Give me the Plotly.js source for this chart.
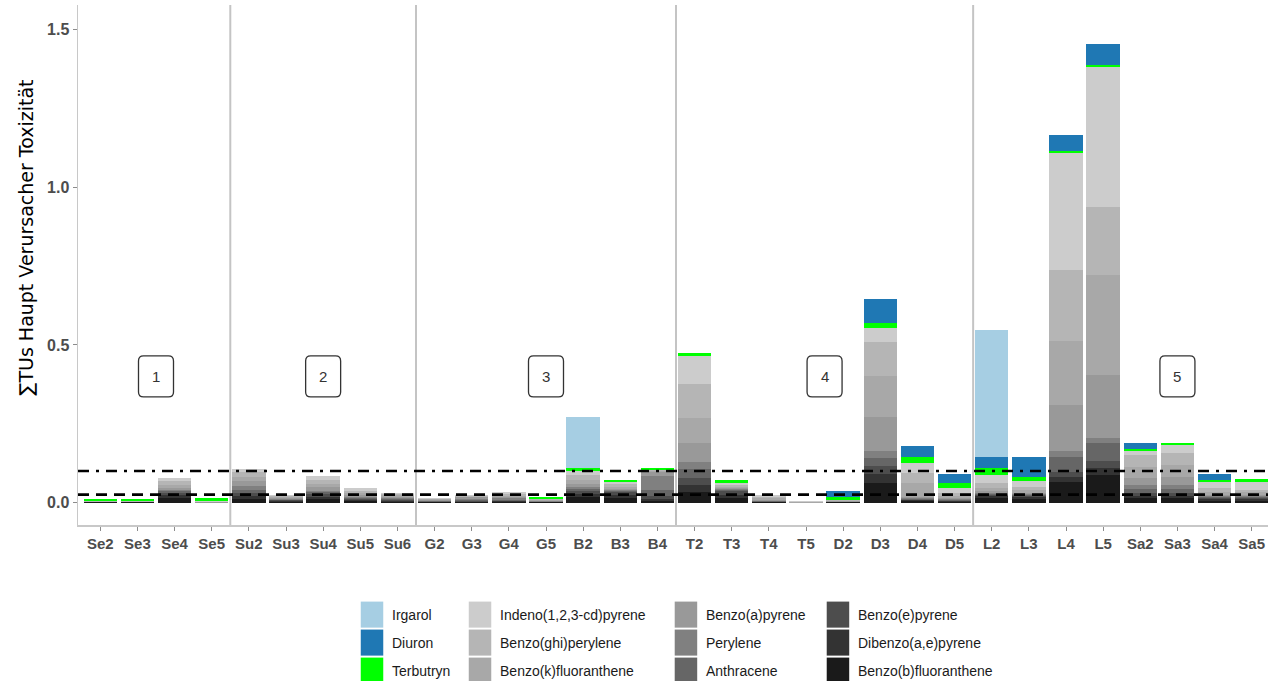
<!DOCTYPE html>
<html><head><meta charset="utf-8">
<script src="https://cdn.plot.ly/plotly-3.0.1.min.js"></script>
<style>
html,body{margin:0;padding:0;overflow:hidden;background:#fff;width:1268px;height:681px}
#chart{width:1280px;height:681px}
#chart .legendpoints path{transform:translate(20px,0px) scale(1.875,2.17) !important;}
</style>
</head><body><div id="chart"></div>
<script>
// ---- data ----
const categories = ["Se2","Se3","Se4","Se5","Su2","Su3","Su4","Su5","Su6","G2","G3","G4","G5","B2","B3","B4","T2","T3","T4","T5","D2","D3","D4","D5","L2","L3","L4","L5","Sa2","Sa3","Sa4","Sa5"];

const irgarol    = [0,0,0,0,0,0,0,0,0,0,0,0,0,0.162,0,0,0,0,0,0,0,0,0,0,0.404,0,0,0,0,0,0,0];
const diuron     = [0,0,0,0,0,0,0,0,0,0,0,0,0,0,0,0,0,0,0,0,0.021,0.077,0.035,0.026,0.035,0.064,0.050,0.067,0.019,0,0.018,0];
const terbutryn  = [0.007,0.007,0,0.009,0,0,0,0,0,0,0,0,0.006,0.008,0.007,0.007,0.008,0.008,0,0,0.008,0.017,0.019,0.016,0.023,0.012,0.007,0.007,0.004,0.006,0.005,0.011];
const indeno     = [0.001,0.001,0.012,0.001,0.010,0.003,0.012,0.008,0.003,0.001,0.003,0.005,0.002,0.014,0.008,0.002,0.091,0.006,0.006,0.003,0.002,0.044,0.033,0.018,0.025,0.018,0.370,0.444,0.014,0.027,0.021,0.024];
const benzoGhiPerylene = [0.001,0.001,0.010,0.001,0.014,0.003,0.012,0.007,0.004,0.002,0.003,0.005,0.002,0.014,0.008,0.002,0.106,0.006,0.005,0.002,0.002,0.106,0.032,0.008,0.014,0.010,0.225,0.215,0.037,0.037,0.012,0.008];
const benzoKFluoranthene = [0.001,0.001,0.010,0.001,0.015,0.004,0.011,0.006,0.004,0.002,0.003,0.005,0.002,0.012,0.006,0.004,0.081,0.005,0.004,0.001,0.001,0.132,0.043,0.008,0.012,0.010,0.204,0.318,0.037,0.037,0.008,0.008];
const benzoAPyrene = [0.001,0.001,0.008,0.001,0.015,0.004,0.010,0.005,0.004,0.002,0.004,0.004,0.002,0.010,0.004,0.012,0.058,0.003,0.003,0,0.001,0.106,0.005,0.003,0.006,0.004,0.148,0.200,0.021,0.026,0.005,0.004];
const perylene   = [0,0,0.004,0,0.012,0.002,0.006,0.004,0.003,0.002,0.004,0.004,0.001,0.006,0.004,0.044,0.024,0.003,0.002,0,0.001,0.025,0.002,0.002,0.003,0.002,0.016,0.017,0.014,0.014,0.004,0.004];
const anthracene = [0,0,0.004,0,0.010,0.002,0.006,0.003,0.003,0.001,0.003,0.003,0.001,0.006,0.004,0.020,0.027,0.004,0.001,0,0,0.025,0.002,0.002,0.002,0.002,0.050,0.055,0.013,0.013,0.003,0.003];
const benzoEPyrene = [0,0,0.008,0,0.010,0.002,0.008,0.004,0.003,0.001,0.002,0.002,0.001,0.010,0.008,0.008,0.023,0.010,0.001,0,0,0.025,0.002,0.002,0.004,0.004,0.016,0.022,0.008,0.008,0.003,0.003];
const dibenzoAePyrene = [0,0,0.008,0,0.008,0.002,0.008,0.003,0.003,0.001,0.001,0.002,0,0.010,0.010,0.006,0.022,0.010,0.001,0,0.001,0.029,0.002,0.002,0.006,0.006,0.016,0.023,0.008,0.008,0.004,0.004];
const benzoBFluoranthene = [0.001,0.001,0.015,0,0.012,0.003,0.010,0.005,0.003,0.001,0.002,0.002,0.001,0.018,0.014,0.006,0.034,0.015,0.001,0,0.001,0.061,0.005,0.002,0.014,0.012,0.064,0.088,0.013,0.013,0.006,0.006];

const thresholds = [0.1, 0.025];           // dash-dot and dashed reference lines
const separators = [3.5, 8.5, 15.5, 23.5];  // group separators (category index)
const groupLabels = ["1","2","3","4","5"];
const groupLabelX = [1.5, 6, 12, 19.5, 29];
const groupLabelY = [0.4, 0.4, 0.4, 0.4, 0.4];
const yTitle = "∑TUs Haupt Verursacher Toxizität";

// ---- series (stack order bottom -> top); legend slot = [column,row] ----
const series = [
  {name:"Benzo(b)fluoranthene", y:benzoBFluoranthene, color:"#1a1a1a", slot:[3,2]},
  {name:"Dibenzo(a,e)pyrene",   y:dibenzoAePyrene,    color:"#333333", slot:[3,1]},
  {name:"Benzo(e)pyrene",       y:benzoEPyrene,       color:"#4d4d4d", slot:[3,0]},
  {name:"Anthracene",           y:anthracene,         color:"#666666", slot:[2,2]},
  {name:"Perylene",             y:perylene,           color:"#808080", slot:[2,1]},
  {name:"Benzo(a)pyrene",       y:benzoAPyrene,       color:"#999999", slot:[2,0]},
  {name:"Benzo(k)fluoranthene", y:benzoKFluoranthene, color:"#a8a8a8", slot:[1,2]},
  {name:"Benzo(ghi)perylene",   y:benzoGhiPerylene,   color:"#b5b5b5", slot:[1,1]},
  {name:"Indeno(1,2,3-cd)pyrene", y:indeno,           color:"#cccccc", slot:[1,0]},
  {name:"Terbutryn",            y:terbutryn,          color:"#00ff00", slot:[0,2]},
  {name:"Diuron",               y:diuron,             color:"#1f78b4", slot:[0,1]},
  {name:"Irgarol",              y:irgarol,            color:"#a6cee3", slot:[0,0]}
];

// legend grid positions (paper coords)
const legendColX = [0.2291, 0.3194, 0.4916, 0.6187];
const legendRowY = [-0.1731, -0.2269, -0.2808];
const legFont = {family:"Liberation Sans, Arial, sans-serif", size:14, color:"#1a1a1a"};

const layout = {
  width:1280, height:681,
  margin:{l:78, r:6, t:5, b:156, autoexpand:false},
  paper_bgcolor:"#fff", plot_bgcolor:"#fff",
  barmode:"stack", bargap:0.1,
  font:{family:"Liberation Sans, Arial, sans-serif", color:"#1a1a1a"},
  xaxis:{type:"category", categoryorder:"array", categoryarray:categories, range:[-0.6, 31.6],
    showgrid:false, zeroline:false, showline:true, linecolor:"#c8c8c8", linewidth:1.5,
    ticks:"outside", ticklen:4, tickcolor:"#8c8c8c", tickwidth:1,
    tickfont:{family:"Liberation Sans, Arial, sans-serif", size:15, color:"#4d4d4d", weight:"bold"}},
  yaxis:{range:[-0.0714, 1.579], tickvals:[0,0.5,1,1.5], tickformat:".1f",
    showgrid:false, zeroline:false, showline:true, linecolor:"#c8c8c8", linewidth:1.5,
    ticks:"outside", ticklen:4, tickcolor:"#8c8c8c", tickwidth:1,
    tickfont:{family:"Liberation Sans, Arial, sans-serif", size:16, color:"#4d4d4d", weight:"bold"}},
  showlegend:true
};

const traces = series.map((s, i) => {
  const n = s.slot[0]*3 + s.slot[1];
  const id = n === 0 ? "legend" : "legend" + (n + 1);
  layout[id] = {orientation:"v", x:legendColX[s.slot[0]], xanchor:"left", y:legendRowY[s.slot[1]], yanchor:"middle",
    font:legFont, bgcolor:"rgba(0,0,0,0)"};
  return {type:"bar", name:s.name, x:categories, y:s.y, legend:id,
    marker:{color:s.color, line:{width:0}}, width:0.9, hoverinfo:"x+y+name"};
});

const shapes = [];
separators.forEach(v => shapes.push({type:"line", xref:"x", yref:"paper", x0:v, x1:v, y0:0, y1:1,
  line:{color:"#c4c4c4", width:2}, layer:"below"}));
shapes.push({type:"line", xref:"paper", yref:"y", x0:0, x1:1, y0:thresholds[0], y1:thresholds[0],
  line:{color:"#000", width:2.6, dash:"11px,7px,3px,7px"}, layer:"above"});
shapes.push({type:"line", xref:"paper", yref:"y", x0:0, x1:1, y0:thresholds[1], y1:thresholds[1],
  line:{color:"#000", width:2.6, dash:"11px,7px"}, layer:"above"});
const boxPath = "M-12.5,-20.5 L12.5,-20.5 Q17.5,-20.5 17.5,-15.5 L17.5,15.5 Q17.5,20.5 12.5,20.5 L-12.5,20.5 Q-17.5,20.5 -17.5,15.5 L-17.5,-15.5 Q-17.5,-20.5 -12.5,-20.5 Z";
groupLabelX.forEach((gx,i) => shapes.push({type:"path", xref:"x", yref:"y", xsizemode:"pixel", ysizemode:"pixel",
  xanchor:gx, yanchor:groupLabelY[i], path:boxPath, line:{color:"#333", width:1.3}, fillcolor:"#fff", layer:"above"}));

const annotations = groupLabels.map((t,i) => ({x:groupLabelX[i], y:groupLabelY[i], xref:"x", yref:"y",
  text:t, showarrow:false, font:{family:"Liberation Sans, Arial, sans-serif", size:15, color:"#333"}}));
// y axis title placed as in the reference
annotations.push({xref:"paper", yref:"paper", x:-0.0435, y:0.553, xanchor:"center", yanchor:"middle",
  textangle:-90, text:yTitle, showarrow:false,
  font:{family:"DejaVu Sans, sans-serif", size:19, color:"#000"}});

layout.shapes = shapes;
layout.annotations = annotations;

Plotly.newPlot("chart", traces, layout, {displayModeBar:false, staticPlot:true});
</script>
</body></html>
